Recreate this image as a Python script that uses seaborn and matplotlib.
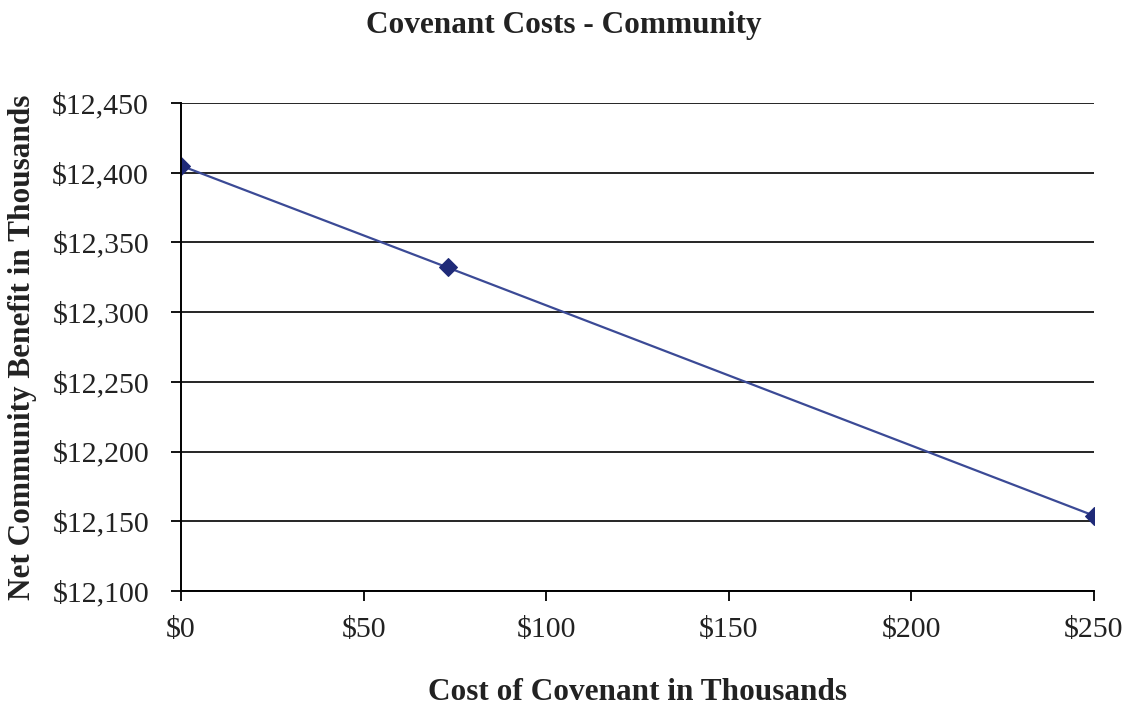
import matplotlib
matplotlib.use("Agg")
import matplotlib.pyplot as plt
import seaborn as sns
import pandas as pd
from matplotlib.ticker import FuncFormatter, MultipleLocator

# Covenant cost (thousands) vs. net community benefit (thousands)
covenant_cost = [0, 73, 250]
net_benefit = [12405, 12332, 12154]

sns.set_theme(style="white")
plt.rcParams["font.family"] = ["Liberation Serif", "DejaVu Serif"]

df = pd.DataFrame({"cost": covenant_cost, "benefit": net_benefit})

fig = plt.figure(figsize=(11.27, 7.05), dpi=100)
ax = fig.add_axes([0.1606, 0.1617, 0.8101, 0.6923])

sns.lineplot(data=df, x="cost", y="benefit", ax=ax, color="#3B4A96",
             linewidth=1.6, marker="D", markersize=9,
             markerfacecolor="#1F2A78", markeredgecolor="#1F2A78")

ax.set_xlim(0, 250)
ax.set_ylim(12100, 12450)
ax.xaxis.set_major_locator(MultipleLocator(50))
ax.yaxis.set_major_locator(MultipleLocator(50))
ax.xaxis.set_major_formatter(FuncFormatter(lambda v, p: f"${v:,.0f}"))
ax.yaxis.set_major_formatter(FuncFormatter(lambda v, p: f"${v:,.0f}"))

ax.yaxis.grid(True, color="black", linewidth=1.2)
ax.xaxis.grid(False)
ax.set_axisbelow(True)

for side in ("top", "right"):
    ax.spines[side].set_visible(False)
for side in ("left", "bottom"):
    ax.spines[side].set_color("black")
    ax.spines[side].set_linewidth(1.4)

ax.tick_params(axis="both", which="major", direction="out", length=7, width=1.3,
               color="black", labelsize=21.5, labelcolor="#222222",
               bottom=True, left=True)
ax.tick_params(axis="x", pad=12)
ax.tick_params(axis="y", pad=16)

ax.set_xlabel("Cost of Covenant in Thousands", fontsize=22.5, fontweight="bold",
              labelpad=25, color="#222222")
ax.set_ylabel("Net Community Benefit in Thousands", fontsize=22.5, fontweight="bold",
              labelpad=11, color="#222222")
fig.suptitle("Covenant Costs - Community", fontsize=22.5, fontweight="bold",
             y=0.984, color="#222222")

fig.savefig("out.png", dpi=100, facecolor="white")
